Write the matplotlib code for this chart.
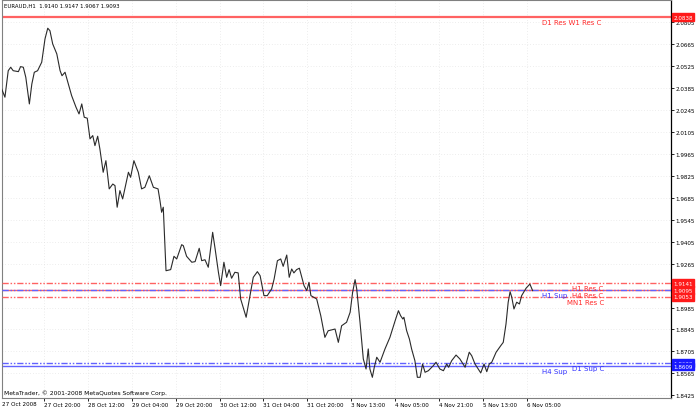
import matplotlib
matplotlib.use('Agg')
import matplotlib.pyplot as plt

# ---- data (hourly bars since start, close prices) ----
bars = [0.6, 1.8, 3.0, 3.9, 4.8, 6.7, 7.5, 8.5, 9.4, 10.7, 11.6, 12.5, 13.7, 15.2, 16.4, 17.4, 18.2, 19.2,
        20.7, 21.9, 22.6, 23.7, 24.9, 26.1, 27.7, 28.8, 29.8, 30.7, 31.8, 32.8, 33.8, 34.6, 35.6, 36.4,
        37.6, 38.6, 39.8, 41.1, 41.9, 42.7, 43.7, 44.7, 46.8, 47.6, 48.8, 50.4, 51.6, 52.8, 54.4, 55.9,
        57.6, 58.3, 58.9, 59.5, 60.5, 62.2, 63.4, 64.4, 66.2, 66.8, 68.0, 69.9, 71.1, 72.6, 73.5, 74.7,
        75.9, 77.5, 78.4, 79.6, 80.4, 81.6, 82.6, 83.5, 84.4, 85.6, 86.8, 87.7, 89.7, 91.1, 92.3, 93.8,
        94.8, 96.2, 97.4, 99.0, 99.9, 101.1, 102.3, 103.2, 104.5, 105.4, 106.3, 107.1, 108.1, 109.1,
        110.8, 111.8, 112.6, 113.3, 115.4, 116.9, 118.4, 119.6, 122.1, 123.3, 124.5, 126.3, 127.6,
        128.5, 129.4, 130.0, 131.2, 132.4, 133.4, 134.2, 134.8, 135.7, 136.4, 137.3, 138.5, 140.3,
        142.1, 144.0, 145.2, 146.0, 146.8, 147.2, 148.2, 149.2, 150.0, 151.2, 152.1, 153.1, 154.0,
        154.9, 156.1, 157.9, 158.9, 160.3, 161.6, 162.8, 163.5, 164.6, 166.2, 167.6, 169.5, 171.0,
        171.9, 173.1, 174.3, 175.2, 176.4, 177.4, 178.3, 179.2, 180.8, 182.5, 183.4, 184.4, 185.2,
        185.9, 186.5, 187.3, 188.3, 189.3, 190.1, 191.7, 193.1, 194.1]
closes = [2.0380, 2.0327, 2.0496, 2.0518, 2.0496, 2.0490, 2.0522, 2.0518, 2.0454, 2.0284, 2.0411, 2.0486,
          2.0496, 2.0550, 2.0699, 2.0767, 2.0751, 2.0667, 2.0603, 2.0496, 2.0464, 2.0486, 2.0411, 2.0337,
          2.0263, 2.0220, 2.0284, 2.0199, 2.0193, 2.0061, 2.0082, 2.0018, 2.0078, 1.9997, 1.9848, 1.9922,
          1.9742, 1.9773, 1.9763, 1.9625, 1.9731, 1.9678, 1.9848, 1.9816, 1.9922, 1.9848, 1.9742, 1.9752,
          1.9826, 1.9752, 1.9742, 1.9667, 1.9593, 1.9625, 1.9220, 1.9227, 1.9312, 1.9295, 1.9386, 1.9380,
          1.9312, 1.9274, 1.9278, 1.9363, 1.9284, 1.9290, 1.9242, 1.9465, 1.9359, 1.9210, 1.9125, 1.9274,
          1.9178, 1.9227, 1.9172, 1.9210, 1.9206, 1.9040, 1.8923, 1.9061, 1.9178, 1.9214, 1.9188, 1.9061,
          1.9061, 1.9104, 1.9167, 1.9284, 1.9295, 1.9248, 1.9320, 1.9178, 1.9231, 1.9206, 1.9227, 1.9236,
          1.9125, 1.9093, 1.9146, 1.9061, 1.9040, 1.8933, 1.8795, 1.8837, 1.8848, 1.8763, 1.8869, 1.8891,
          1.8955, 1.9082, 1.9163, 1.9104, 1.8891, 1.8657, 1.8593, 1.8721, 1.8593, 1.8540, 1.8604, 1.8668,
          1.8636, 1.8721, 1.8795, 1.8901, 1.8965, 1.8933, 1.8912, 1.8923, 1.8837, 1.8784, 1.8721, 1.8646,
          1.8540, 1.8540, 1.8625, 1.8572, 1.8582, 1.8614, 1.8636, 1.8593, 1.8582, 1.8625, 1.8604, 1.8646,
          1.8682, 1.8657, 1.8604, 1.8700, 1.8678, 1.8625, 1.8593, 1.8568, 1.8625, 1.8576, 1.8625, 1.8636,
          1.8700, 1.8742, 1.8763, 1.8880, 1.9019, 1.9086, 1.9051, 1.8976, 1.9019, 1.9008, 1.9061, 1.9108,
          1.9135, 1.9093]

x_tick_bars = [16, 32, 48, 64, 80, 96, 112, 128, 144, 160, 176, 192]
x_tick_labels = ['27 Oct 20:00', '28 Oct 12:00', '29 Oct 04:00', '29 Oct 20:00', '30 Oct 12:00',
                 '31 Oct 04:00', '31 Oct 20:00', '3 Nov 13:00', '4 Nov 05:00', '4 Nov 21:00',
                 '5 Nov 13:00', '6 Nov 05:00']
first_date_label = '27 Oct 2008'

y_ticks = [2.0805, 2.0665, 2.0525, 2.0385, 2.0245, 2.0105, 1.9965, 1.9825, 1.9685, 1.9545,
           1.9405, 1.9265, 1.8985, 1.8845, 1.8705, 1.8565, 1.8425]

level_prices = [2.0838, 1.9141, 1.9095, 1.9095, 1.9053, 1.8629, 1.8609]
level_names = ['D1 Res W1 Res C', 'H1 Res C', 'H4 Res C', 'H1 Sup', 'MN1 Res C', 'D1 Sup C', 'H4 Sup']
level_kinds = ['res', 'res', 'res', 'sup', 'res', 'sup', 'sup']
level_solid = [True, False, True, False, False, False, True]

red_boxes = [2.0838, 1.9141, 1.9095, 1.9053]
blue_boxes = [1.8629, 1.8609]

header = 'EURAUD,H1  1.9140 1.9147 1.9067 1.9093'
copyright_text = 'MetaTrader, \u00a9 2001-2008 MetaQuotes Software Corp.'

# ---- figure ----
W, H = 696, 410
fig = plt.figure(figsize=(W / 100, H / 100), dpi=100)
left_px, right_px, top_px, bottom_px = 1.5, 670.7, 1.0, 399.0
ax = fig.add_axes([left_px / W, 1 - bottom_px / H, (right_px - left_px) / W, (bottom_px - top_px) / H])

px_per_bar = 2.744
ax.set_xlim(left_px / px_per_bar, right_px / px_per_bar)
ax.set_ylim(1.8408, 2.0947)

RED_LINE = '#ff6262'
BLUE_LINE = '#6262ff'
RED_TXT = '#ff2a2a'
BLUE_TXT = '#3030ff'
ddot = (0, (4.5, 1.3, 1.1, 1.3, 1.1, 1.3))

# grid
for xb in x_tick_bars:
    ax.axvline(xb, color='#dcdcdc', lw=0.5, ls=(0, (1, 3)), zorder=0)
for yv in y_ticks:
    ax.axhline(yv, color='#dcdcdc', lw=0.5, ls=(0, (1, 3)), zorder=0)

# levels
label_x_bar = {'D1 Res W1 Res C': 197.4, 'H1 Res C': 208.3, 'H4 Res C': 208.3, 'H1 Sup': 197.4,
               'MN1 Res C': 206.8, 'D1 Sup C': 208.3, 'H4 Sup': 197.4}
for p, name, kind, solid in zip(level_prices, level_names, level_kinds, level_solid):
    c = RED_LINE if kind == 'res' else BLUE_LINE
    lw = 1.6 if name.startswith('D1 Res') else 1.0
    ax.axhline(p, color=c, lw=lw, ls='-' if solid else ddot, zorder=2 if solid else 3)
    ax.annotate(name, xy=(label_x_bar[name], p), xytext=(0, -1.2), textcoords='offset points',
                ha='left', va='top', fontsize=5.0, color=RED_TXT if kind == 'res' else BLUE_TXT,
                family='DejaVu Sans', zorder=4)

# price line
ax.plot(bars, closes, color='#2a2a2a', lw=0.8, zorder=5)

# axes styling
for s in ['left', 'top', 'bottom']:
    ax.spines[s].set_color('#808080')
    ax.spines[s].set_linewidth(0.8)
ax.spines['right'].set_color('black')
ax.spines['right'].set_linewidth(0.9)

ax.yaxis.tick_right()
ax.set_yticks(y_ticks)
ax.set_yticklabels([f'{v:.4f}' for v in y_ticks])
ax.tick_params(axis='y', direction='out', length=2, width=0.6, pad=1.5, labelsize=4.1,
               colors='black')

ax.set_xticks(x_tick_bars)
ax.set_xticklabels(x_tick_labels, ha='left')
ax.tick_params(axis='x', direction='out', length=2, width=0.6, pad=1.2, labelsize=4.1,
               colors='black')
ax.text(0.0, -0.008, first_date_label, transform=ax.transAxes, ha='left', va='top', fontsize=4.1)

# price boxes
for p in red_boxes:
    ax.text(1.004, p, f'{p:.4f}', transform=ax.get_yaxis_transform(), ha='left', va='center',
            fontsize=4.1, color='white', zorder=10, clip_on=False,
            bbox=dict(boxstyle='square,pad=0.25', fc='#ff1a1a', ec='#ff1a1a'))
for p in blue_boxes:
    ax.text(1.004, p, f'{p:.4f}', transform=ax.get_yaxis_transform(), ha='left', va='center',
            fontsize=4.1, color='white', zorder=10, clip_on=False,
            bbox=dict(boxstyle='square,pad=0.25', fc='#1a1aff', ec='#1a1aff'))

ax.text(0.003, 0.993, header, transform=ax.transAxes, ha='left', va='top', fontsize=3.9)
ax.text(0.003, 0.008, copyright_text, transform=ax.transAxes, ha='left', va='bottom', fontsize=4.3)

fig.savefig('out.png', dpi=100)
